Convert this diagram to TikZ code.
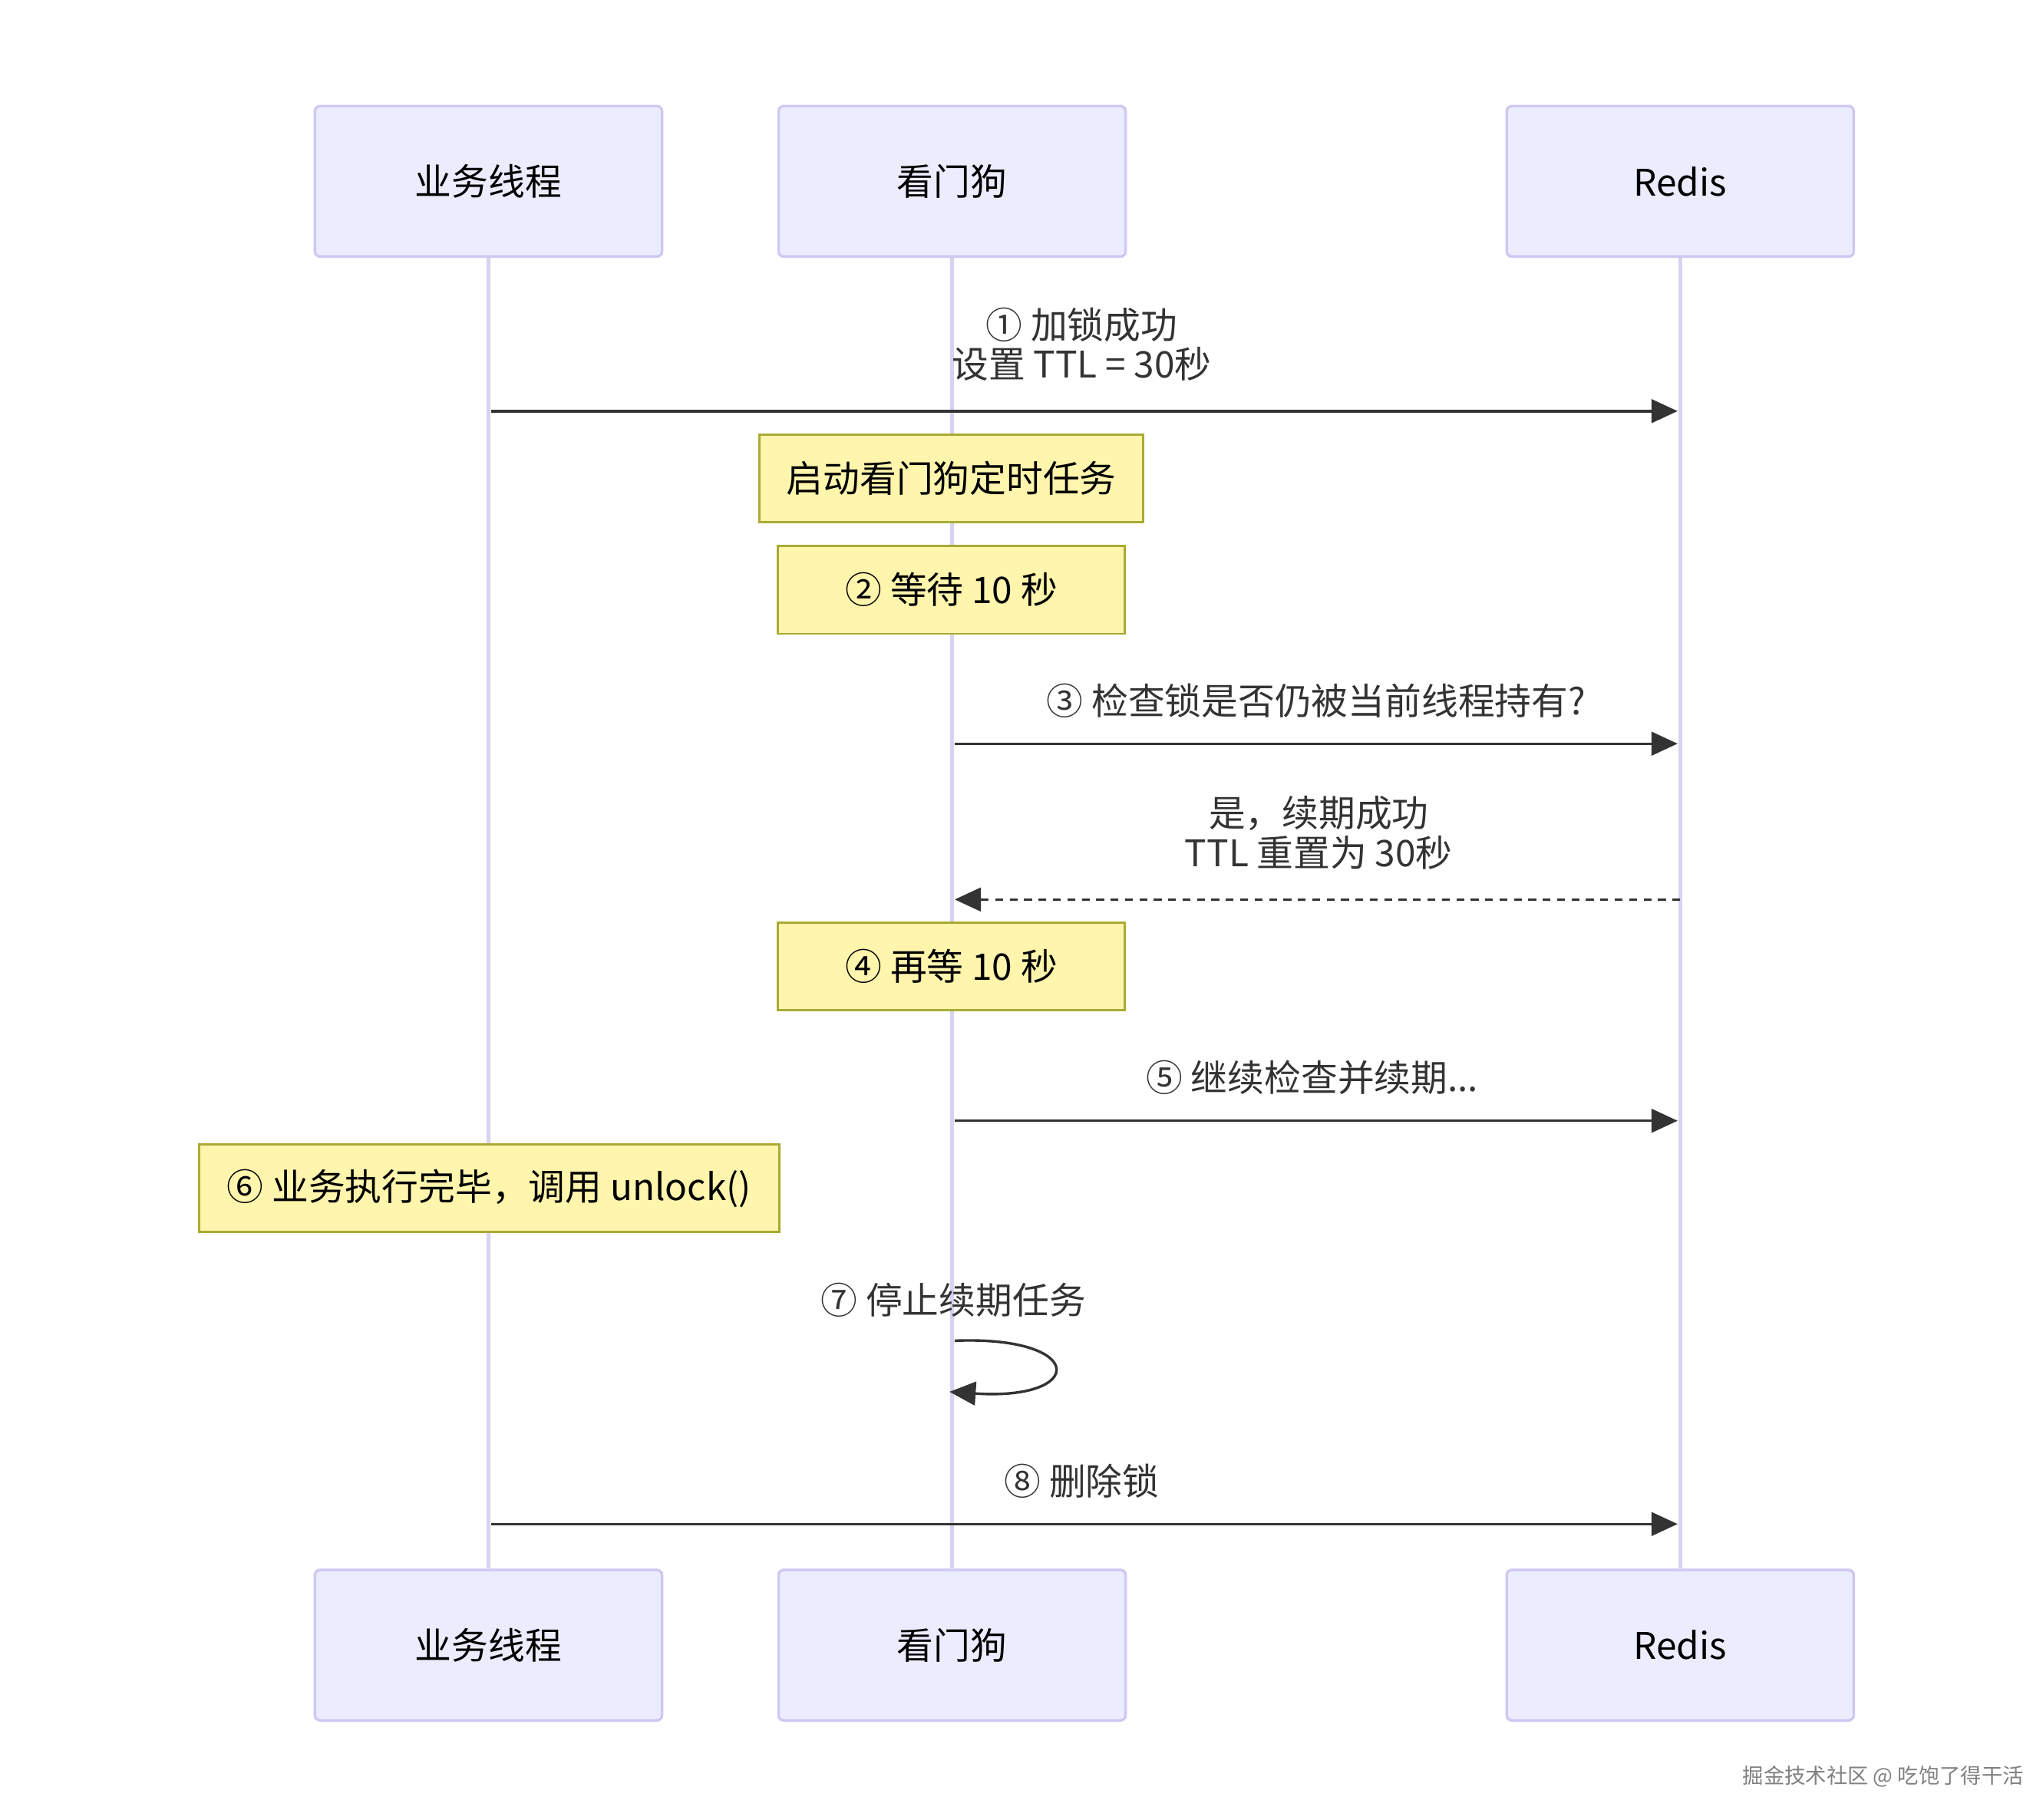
\documentclass[tikz,border=0pt]{standalone}
\usepackage{fontspec}
\setmainfont{Noto Sans CJK SC}
\usetikzlibrary{arrows.meta}
\definecolor{actfill}{HTML}{ECECFF}
\definecolor{actdraw}{HTML}{CFC8F2}
\definecolor{life}{HTML}{D8D2F2}
\definecolor{notefill}{HTML}{FFF5AD}
\definecolor{notedraw}{HTML}{AAAA33}
\definecolor{ink}{HTML}{333333}
\begin{document}
\begin{tikzpicture}[x=0.5pt,y=-0.5pt,
  actor/.style={draw=actdraw,fill=actfill,line width=1pt,rounded corners=2pt,minimum width=132.5pt,minimum height=57.5pt,font=\fontsize{14}{16}\selectfont,text=black},
  note/.style={draw=notedraw,fill=notefill,line width=0.8pt,minimum height=33.5pt,font=\fontsize{14}{16}\selectfont,text=black},
  lbl/.style={font=\fontsize{14}{16}\selectfont,text=ink,align=center},
  lifeline/.style={draw=life,line width=1.5pt},
  msg/.style={draw=ink,line width=1pt,-{Triangle[length=10pt,width=9pt]}},
  reply/.style={msg,dash pattern=on 3pt off 2.5pt}]
\useasboundingbox[fill=white] (0,0) rectangle (1560,1390);
% actors
\node[actor] (a1) at (373,138.5) {业务线程};
\node[actor] (a2) at (727,138.5) {看门狗};
\node[actor] (a3) at (1283,138.5) {Redis};
\node[actor] (b1) at (373,1256.5) {业务线程};
\node[actor] (b2) at (727,1256.5) {看门狗};
\node[actor] (b3) at (1283,1256.5) {Redis};
\draw[lifeline] (a1) -- (b1);
\draw[lifeline] (a2) -- (b2);
\draw[lifeline] (a3) -- (b3);
% coordinates on lifelines
\coordinate (p1) at (375,314); \coordinate (r1) at (1281,314);
\coordinate (w3) at (729,568); \coordinate (r3) at (1281,568);
\coordinate (r4) at (1283,687); \coordinate (w4) at (729,687);
\coordinate (w5) at (729,856); \coordinate (r5) at (1281,856);
\coordinate (p8) at (375,1164); \coordinate (r8) at (1281,1164);
\coordinate (s1) at (729,1024); \coordinate (s2) at (725,1063);
% messages
\node[lbl] (m1) at (826,263) {① 加锁成功\\[-1pt]设置 TTL = 30秒};
\draw[msg] (p1) -- (r1);
\node[note,minimum width=146.5pt] (n1) at (726.5,365.5) {启动看门狗定时任务};
\node[note,minimum width=132.5pt] (n2) at (726.5,450.5) {② 等待 10 秒};
\node[lbl] (m3) at (1005,535) {③ 检查锁是否仍被当前线程持有?};
\draw[msg] (w3) -- (r3);
\node[lbl] (m4) at (1007,636) {是，续期成功\\[-1pt]TTL 重置为 30秒};
\draw[reply] (r4) -- (w4);
\node[note,minimum width=132.5pt] (n4) at (726.5,738) {④ 再等 10 秒};
\node[lbl] (m5) at (1002,823) {⑤ 继续检查并续期...};
\draw[msg] (w5) -- (r5);
\node[note,minimum width=221.5pt] (n6) at (373.5,907.5) {⑥ 业务执行完毕，调用 unlock()};
\node[lbl] (m7) at (728,993) {⑦ 停止续期任务};
\draw[msg] (s1) .. controls (830,1020) and (830,1070) .. (s2);
\node[lbl] (m8) at (826,1131) {⑧ 删除锁};
\draw[msg] (p8) -- (r8);
\node[font=\fontsize{8}{9}\selectfont,text=gray] (wm) at (1438,1357) {掘金技术社区 @ 吃饱了得干活};
\end{tikzpicture}
\end{document}
